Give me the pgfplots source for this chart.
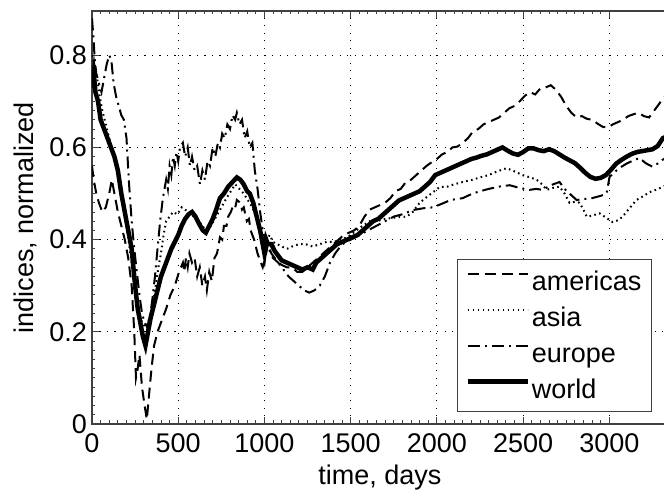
\documentclass[border=0pt]{standalone}
\usepackage{fontspec}
\setmainfont{Liberation Sans}
\usepackage{pgfplots}
\usepackage{pgfplotstable}
\pgfplotsset{compat=1.18}

\newcommand\chartfont{\fontsize{27}{32}\selectfont}

% normalized index series (days, value)
\pgfplotstableread{
d v
0 0.56
10 0.53
25 0.50
40 0.48
60 0.46
80 0.47
100 0.50
115 0.53
130 0.50
150 0.46
170 0.43
190 0.40
210 0.36
230 0.30
245 0.20
255 0.10
265 0.12
275 0.15
290 0.08
305 0.04
318 0.01
330 0.06
345 0.12
360 0.17
380 0.20
400 0.22
430 0.25
455 0.28
480 0.30
505 0.33
527 0.35
535 0.33
545 0.36
555 0.34
565 0.37
580 0.35
595 0.36
610 0.32
625 0.34
640 0.30
655 0.32
666 0.29
680 0.33
695 0.31
710 0.36
725 0.37
742 0.405
755 0.40
765 0.43
780 0.43
790 0.45
805 0.46
815 0.47
828 0.465
840 0.486
860 0.48
870 0.465
880 0.47
898 0.44
910 0.445
920 0.42
940 0.40
960 0.37
973 0.356
990 0.34
1005 0.36
1020 0.39
1040 0.37
1060 0.36
1080 0.35
1100 0.345
1130 0.34
1160 0.34
1190 0.33
1220 0.33
1250 0.34
1280 0.35
1310 0.36
1340 0.37
1370 0.38
1400 0.39
1430 0.40
1460 0.41
1490 0.415
1520 0.42
1550 0.43
1580 0.45
1610 0.465
1640 0.47
1670 0.475
1700 0.48
1730 0.49
1760 0.505
1790 0.51
1820 0.525
1850 0.53
1880 0.54
1910 0.55
1940 0.56
1970 0.568
2000 0.575
2030 0.585
2060 0.59
2090 0.60
2120 0.602
2150 0.61
2180 0.62
2210 0.635
2240 0.64
2270 0.65
2300 0.655
2330 0.66
2360 0.665
2390 0.675
2420 0.685
2450 0.69
2480 0.70
2510 0.712
2540 0.72
2570 0.715
2600 0.728
2630 0.73
2660 0.735
2690 0.725
2720 0.71
2750 0.69
2780 0.675
2810 0.665
2840 0.668
2870 0.662
2900 0.66
2930 0.652
2960 0.645
2990 0.643
3020 0.65
3050 0.655
3080 0.66
3110 0.668
3140 0.672
3170 0.675
3200 0.668
3230 0.665
3260 0.68
3290 0.695
3310 0.707
3340 0.715
}\americas

\pgfplotstableread{
d v
0 0.80
15 0.78
30 0.75
45 0.71
60 0.68
80 0.65
100 0.62
120 0.59
140 0.56
155 0.53
170 0.50
185 0.46
200 0.43
215 0.39
230 0.35
245 0.31
260 0.27
275 0.24
290 0.22
310 0.21
325 0.22
340 0.24
355 0.27
370 0.30
385 0.34
400 0.37
415 0.41
430 0.44
450 0.45
470 0.46
495 0.455
520 0.47
540 0.465
560 0.46
590 0.45
620 0.44
640 0.43
660 0.42
690 0.43
720 0.45
750 0.47
780 0.49
805 0.505
830 0.52
855 0.51
880 0.50
905 0.485
930 0.47
950 0.45
970 0.42
985 0.39
1000 0.38
1015 0.40
1030 0.41
1050 0.395
1075 0.39
1100 0.385
1130 0.38
1160 0.385
1200 0.39
1240 0.39
1280 0.385
1320 0.39
1360 0.395
1400 0.395
1450 0.40
1500 0.41
1550 0.425
1611 0.44
1650 0.44
1700 0.445
1760 0.448
1825 0.45
1860 0.46
1900 0.48
1950 0.495
2016 0.514
2060 0.515
2100 0.52
2150 0.525
2207 0.53
2250 0.535
2300 0.54
2350 0.548
2404 0.555
2450 0.548
2497 0.54
2540 0.535
2578 0.53
2610 0.52
2636 0.508
2670 0.512
2711 0.515
2740 0.50
2769 0.48
2800 0.482
2827 0.48
2850 0.465
2868 0.45
2900 0.452
2943 0.457
2980 0.448
3019 0.438
3050 0.442
3077 0.45
3110 0.465
3157 0.486
3200 0.495
3233 0.503
3270 0.508
3308 0.514
3340 0.52
}\asia

\pgfplotstableread{
d v
0 0.88
8 0.84
16 0.79
25 0.76
40 0.74
55 0.72
70 0.75
85 0.78
100 0.80
112 0.79
125 0.74
140 0.71
155 0.69
170 0.67
185 0.66
200 0.62
215 0.52
230 0.44
245 0.38
260 0.33
275 0.28
290 0.24
305 0.22
320 0.21
335 0.23
350 0.27
365 0.32
380 0.38
395 0.44
411 0.49
430 0.53
440 0.51
450 0.56
460 0.54
470 0.58
480 0.56
490 0.59
500 0.57
510 0.60
527 0.61
540 0.58
555 0.60
568 0.56
580 0.58
595 0.55
610 0.56
626 0.52
640 0.55
655 0.53
670 0.57
684 0.56
700 0.60
715 0.58
730 0.61
742 0.60
755 0.63
770 0.62
785 0.65
800 0.64
815 0.67
830 0.66
840 0.675
855 0.65
870 0.66
885 0.62
900 0.635
915 0.60
930 0.61
944 0.55
960 0.51
975 0.46
990 0.42
1005 0.40
1025 0.38
1050 0.36
1080 0.35
1110 0.335
1140 0.32
1170 0.31
1200 0.30
1230 0.29
1260 0.285
1290 0.29
1320 0.30
1350 0.32
1380 0.35
1410 0.37
1440 0.385
1470 0.395
1500 0.40
1550 0.41
1600 0.42
1650 0.43
1700 0.44
1750 0.45
1800 0.455
1860 0.464
1920 0.468
1976 0.47
2030 0.478
2080 0.486
2150 0.49
2207 0.50
2250 0.505
2300 0.51
2360 0.515
2422 0.518
2480 0.512
2537 0.508
2575 0.51
2613 0.508
2660 0.518
2711 0.525
2740 0.51
2769 0.50
2810 0.486
2850 0.488
2900 0.49
2950 0.495
2984 0.50
3001 0.536
3041 0.55
3070 0.558
3100 0.565
3140 0.572
3175 0.577
3210 0.566
3250 0.558
3280 0.565
3308 0.573
3340 0.58
}\europe

\pgfplotstableread{
d v
0 0.73
10 0.76
20 0.72
35 0.70
50 0.66
70 0.64
90 0.62
110 0.60
130 0.58
150 0.55
170 0.50
190 0.46
210 0.42
230 0.38
250 0.30
265 0.25
280 0.22
295 0.19
310 0.17
325 0.20
340 0.23
360 0.26
380 0.29
400 0.32
420 0.34
440 0.36
460 0.38
480 0.395
500 0.41
520 0.43
540 0.445
560 0.455
580 0.46
600 0.45
620 0.435
643 0.42
660 0.415
680 0.43
700 0.445
720 0.465
742 0.49
765 0.50
790 0.515
815 0.525
840 0.535
860 0.53
880 0.52
900 0.505
915 0.50
935 0.48
955 0.45
975 0.42
990 0.39
1000 0.37
1010 0.40
1020 0.39
1040 0.39
1060 0.375
1080 0.365
1100 0.355
1130 0.35
1160 0.345
1190 0.34
1220 0.335
1250 0.34
1280 0.335
1300 0.35
1330 0.36
1360 0.37
1390 0.38
1420 0.39
1450 0.395
1480 0.40
1510 0.405
1540 0.41
1570 0.42
1600 0.43
1630 0.44
1660 0.445
1690 0.455
1720 0.465
1750 0.475
1780 0.485
1810 0.49
1840 0.495
1870 0.50
1900 0.505
1930 0.515
1960 0.525
1990 0.54
2020 0.545
2050 0.55
2080 0.555
2110 0.56
2140 0.565
2170 0.57
2200 0.575
2230 0.578
2260 0.582
2290 0.585
2320 0.59
2350 0.595
2380 0.60
2410 0.593
2440 0.587
2470 0.584
2500 0.59
2530 0.598
2560 0.598
2590 0.594
2620 0.592
2650 0.596
2680 0.592
2710 0.585
2740 0.578
2770 0.572
2800 0.566
2830 0.556
2860 0.545
2890 0.536
2920 0.532
2950 0.534
2980 0.54
3010 0.552
3040 0.565
3070 0.573
3100 0.58
3130 0.586
3160 0.59
3190 0.592
3220 0.594
3250 0.596
3280 0.603
3310 0.62
3340 0.625
}\world

\begin{document}
\begin{tikzpicture}
\begin{axis}[
    name=ax,
    scale only axis,
    width=576pt, height=413pt,
    xmin=0, xmax=3340, ymin=0, ymax=0.896,
    xtick={0,500,...,3000},
    ytick={0,0.2,0.4,0.6,0.8},
    minor x tick num=9, minor y tick num=9,
    ytick pos=left,
    tick align=inside,
    major tick length=7pt, minor tick length=3.5pt,
    every tick/.style={black!75, line width=0.9pt},
    axis line style={black!75, line width=1.2pt},
    grid=major,
    major grid style={black, line width=0.9pt, dash pattern=on 1.1pt off 6.4pt},
    tick label style={font=\chartfont},
    label style={font=\chartfont},
    /pgf/number format/assume math mode=true,
    /pgf/number format/1000 sep={},
    xticklabel style={anchor=base, yshift=-29pt},
    yticklabel style={anchor=east, inner sep=0pt, xshift=-5pt},
    xlabel={time, days},
    ylabel={indices, normalized},
    xlabel style={at={(axis description cs:0.5,-0.1453)}, anchor=base},
    ylabel style={at={(axis description cs:-0.1163,0.5)}, anchor=center},
    legend style={at={(axis description cs:0.9722,0.3995)}, anchor=north east,
        font=\chartfont, draw=black!75, line width=1.2pt,
        inner xsep=8pt, inner ysep=4pt,
        nodes={inner xsep=2pt, inner ysep=3pt, text height=24pt, text depth=6pt}},
    legend cell align=left,
    legend image code/.code={\path (0pt,0pt); \draw[#1] (0pt,8pt) -- (60pt,8pt);},
]
\addplot[black, line width=2pt, dash pattern=on 11pt off 6pt] table[x=d, y=v] {\americas};
\addplot[black, line width=2pt, dash pattern=on 1.6pt off 3.4pt] table[x=d, y=v] {\asia};
\addplot[black, line width=2pt, dash pattern=on 12pt off 5pt on 2pt off 5pt] table[x=d, y=v] {\europe};
\addplot[black, line width=4.5pt] table[x=d, y=v] {\world};
\legend{americas, asia, europe, world}
\end{axis}
\pgfresetboundingbox
\path[use as bounding box] ([xshift=-92pt,yshift=-68pt]ax.south west) rectangle ([xshift=572pt,yshift=11pt]ax.north west);
\end{tikzpicture}
\end{document}
